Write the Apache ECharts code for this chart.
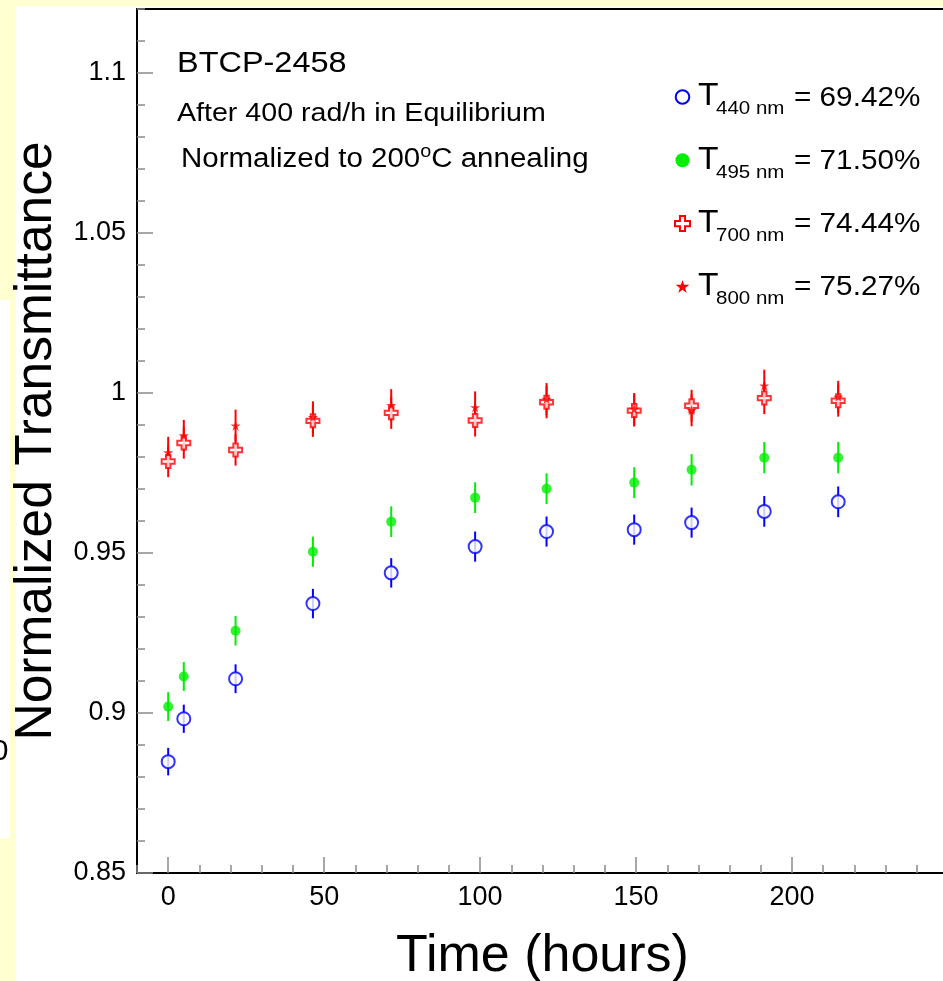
<!DOCTYPE html>
<html><head><meta charset="utf-8">
<script src="https://cdn.jsdelivr.net/npm/echarts@6/dist/echarts.min.js"></script>
<style>
html,body{margin:0;padding:0;overflow:hidden;background:#ffffd2;width:943px;height:981px}
#c{position:absolute;left:0;top:0;width:960px;height:981px}
</style>
</head><body><div id="c"></div>
<script>
const FONT = '"Liberation Sans", Arial, Helvetica, sans-serif';

// ---- data ----
const timeHours = [0, 5, 21.6, 46.4, 71.5, 98.4, 121.3, 149.4, 167.8, 191.1, 214.8];
const t440 = [0.8848, 0.8982, 0.9107, 0.9342, 0.9438, 0.9520, 0.9567, 0.9573, 0.9595, 0.9630, 0.9660];
const e440 = [0.0043, 0.0044, 0.0045, 0.0046, 0.0046, 0.0047, 0.0047, 0.0047, 0.0047, 0.0048, 0.0048];
const t495 = [0.9020, 0.9114, 0.9257, 0.9504, 0.9598, 0.9673, 0.9701, 0.9720, 0.9760, 0.9798, 0.9798];
const e495 = [0.0045, 0.0045, 0.0046, 0.0047, 0.0048, 0.0048, 0.0048, 0.0048, 0.0049, 0.0049, 0.0049];
const t700 = [0.9786, 0.9844, 0.9822, 0.9913, 0.9938, 0.9914, 0.9971, 0.9945, 0.9960, 0.9984, 0.9976];
const e700 = [0.0049, 0.0049, 0.0049, 0.0050, 0.0050, 0.0050, 0.0050, 0.0050, 0.0050, 0.0050, 0.0050];
const t800 = [0.9814, 0.9867, 0.9898, 0.9924, 0.9962, 0.9955, 0.9981, 0.9950, 0.9946, 1.0023, 0.9988];
const e800 = [0.0049, 0.0049, 0.0050, 0.0050, 0.0050, 0.0050, 0.0050, 0.0050, 0.0050, 0.0050, 0.0050];

const xTickValues = [0, 50, 100, 150, 200];
const xTickLabels = ['0', '50', '100', '150', '200'];
const yTickValues = [0.85, 0.9, 0.95, 1.0, 1.05, 1.1];
const yTickLabels = ['0.85', '0.9', '0.95', '1', '1.05', '1.1'];

const legendSub = ['440 nm', '495 nm', '700 nm', '800 nm'];
const legendVal = ['= 69.42%', '= 71.50%', '= 74.44%', '= 75.27%'];
const noteLines = ['BTCP-2458', 'After 400 rad/h in Equilibrium'];

// ---- styles ----
const BLUE = '#0000ff', GREEN = '#00ee00', RED = '#ff0000';
const CROSS_PTS = [[3.3,0],[6.7,0],[6.7,3.3],[10,3.3],[10,6.7],[6.7,6.7],[6.7,10],[3.3,10],[3.3,6.7],[0,6.7],[0,3.3],[3.3,3.3]];
const STAR_PTS = [[5,0],[6.18,3.51],[9.89,3.51],[6.89,5.73],[8.03,9.27],[5,7.09],[1.97,9.27],[3.11,5.73],[0.11,3.51],[3.82,3.51]];
function toPath(pts) { return 'path://M' + pts.map(p => p[0] + ',' + p[1]).join(' L') + ' Z'; }
const TICK = '#8a8a8a';

function zip(a, b, c) { return a.map((v, i) => c ? [v, b[i], c[i]] : [v, b[i]]); }

function errSeries(vals, errs, color) {
  return {
    type: 'custom', xAxisIndex: 0, yAxisIndex: 0, z: 3, silent: true,
    data: zip(timeHours, vals, errs), encode: {x: 0, y: 1},
    renderItem: function (params, api) {
      const x = api.value(0), y = api.value(1), e = api.value(2);
      const p1 = api.coord([x, y - e]), p2 = api.coord([x, y + e]);
      return {type: 'line', shape: {x1: p1[0], y1: p1[1], x2: p2[0], y2: p2[1]},
              style: {stroke: color, lineWidth: 2}};
    }
  };
}
function markSeries(name, vals, symbol, size, itemStyle, z) {
  return {type: 'scatter', name: name, xAxisIndex: 0, yAxisIndex: 0, z: z, silent: true,
          data: zip(timeHours, vals), symbol: symbol, symbolSize: size, itemStyle: itemStyle};
}

function txt(x, base, s, size, sx, extra) {
  return Object.assign({type: 'text', x: x, y: base - 0.33 * size, scaleX: sx || 1,
    style: {text: s, fill: '#000', font: size + 'px ' + FONT, align: 'left', verticalAlign: 'middle'}}, extra || {});
}

const graphics = [
  {type: 'rect', z: -10, shape: {x: 16, y: 6, width: 960, height: 990}, style: {fill: '#ffffff'}},
  {type: 'rect', z: -10, shape: {x: 0, y: 300, width: 10, height: 538}, style: {fill: '#ffffff'}},
  {type: 'text', z: -9, x: 0, y: 752, style: {text: '0', fill: '#000', font: '30px ' + FONT, align: 'center', verticalAlign: 'middle'}},
  txt(177, 74, noteLines[0], 29.5, 1.1),
  txt(177, 122, noteLines[1], 26, 1.1),
  {type: 'text', x: 181, y: 143, scaleX: 1.1,
   style: {text: '{a|Normalized to 200}{o|o}{a|C annealing}', fill: '#000', verticalAlign: 'top', align: 'left',
           rich: {a: {fontSize: 26.8, fontFamily: FONT, lineHeight: 34, fill: '#000'},
                  o: {fontSize: 18, fontFamily: FONT, lineHeight: 18, verticalAlign: 'top', fill: '#000'}}}}
];

// legend (drawn as decorations)
const legBase0 = 107, legStep = 63.3, legMarkX = 682.5;
function legPoly(pts, size, cx, cy, style) {
  return {type: 'polygon', shape: {points: pts.map(p => [cx + (p[0] - 5) * size / 10, cy + (p[1] - 5) * size / 10])}, style: style};
}
legendSub.forEach(function (sub, i) {
  const base = legBase0 + i * legStep, cy = base - 10;
  let m;
  if (i === 0) m = {type: 'circle', shape: {cx: legMarkX, cy: cy, r: 6.8}, style: {fill: '#fff', stroke: BLUE, lineWidth: 2}};
  else if (i === 1) m = {type: 'circle', shape: {cx: legMarkX, cy: cy, r: 7}, style: {fill: GREEN}};
  else if (i === 2) m = legPoly(CROSS_PTS, 15, legMarkX, cy, {fill: '#fff', stroke: RED, lineWidth: 2});
  else m = legPoly(STAR_PTS, 14, legMarkX, cy, {fill: RED});
  graphics.push(m);
  graphics.push(txt(698, base, 'T', 32, 1.05));
  graphics.push(txt(716, base + 8.3, sub, 19, 1.08));
  graphics.push(txt(794, base, legendVal[i], 27, 1.1));
});

const axisCommon = {min: -10, max: 250, splitLine: {show: false}};
const option = {
  backgroundColor: '#ffffd2',
  animation: false,
  grid: {left: 137, top: 9, width: 811, height: 864, outerBoundsMode: 'none', containLabel: false,
         show: true, borderColor: '#000', borderWidth: 2, backgroundColor: '#fff'},
  xAxis: [
    Object.assign({type: 'value', interval: 10, position: 'bottom',
      name: 'Time (hours)', nameLocation: 'middle', nameGap: 58,
      nameTextStyle: {fontSize: 52, fontFamily: FONT, color: '#000'},
      axisLine: {show: true, onZero: false, lineStyle: {color: '#000', width: 2}},
      axisTick: {show: true, inside: true, length: 8, lineStyle: {color: TICK, width: 1.5}},
      axisLabel: {show: false}}, axisCommon),
    Object.assign({type: 'value', position: 'bottom', interval: 10,
      axisLine: {show: false, onZero: false},
      axisTick: {show: true, inside: true, length: 16, customValues: xTickValues, lineStyle: {color: TICK, width: 1.5}},
      axisLabel: {show: true, margin: 11, fontSize: 27, fontFamily: FONT, color: '#000', customValues: xTickValues,
        formatter: function (v) { const k = xTickValues.indexOf(v); return k >= 0 ? xTickLabels[k] : ''; }}}, axisCommon)
  ],
  yAxis: [
    {type: 'value', min: 0.85, max: 1.12, interval: 0.01, position: 'left',
      name: 'Normalized Transmittance', nameLocation: 'middle', nameGap: 74, nameRotate: 90,
      nameTextStyle: {fontSize: 51.5, fontFamily: FONT, color: '#000'},
      splitLine: {show: false},
      axisLine: {show: true, onZero: false, lineStyle: {color: '#000', width: 2}},
      axisTick: {show: true, inside: true, length: 8, lineStyle: {color: TICK, width: 1.5}},
      axisLabel: {show: false}},
    {type: 'value', min: 0.85, max: 1.12, interval: 0.01, position: 'left',
      splitLine: {show: false}, axisLine: {show: false, onZero: false},
      axisTick: {show: true, inside: true, length: 16, customValues: yTickValues, lineStyle: {color: TICK, width: 1.5}},
      axisLabel: {show: true, margin: 11, fontSize: 27, fontFamily: FONT, color: '#000', customValues: yTickValues,
        formatter: function (v) {
          for (let k = 0; k < yTickValues.length; k++) if (Math.abs(yTickValues[k] - v) < 1e-6) return yTickLabels[k];
          return '';
        }}}
  ],
  series: [
    errSeries(t440, e440, BLUE),
    markSeries('T440', t440, 'circle', 13, {color: '#fff', borderColor: BLUE, borderWidth: 2}, 4),
    errSeries(t495, e495, GREEN),
    markSeries('T495', t495, 'circle', 10, {color: GREEN}, 4),
    errSeries(t700, e700, RED),
    markSeries('T700', t700, toPath(CROSS_PTS), 13, {color: '#fff', borderColor: RED, borderWidth: 2}, 4),
    errSeries(t800, e800, RED),
    markSeries('T800', t800, toPath(STAR_PTS), 10, {color: RED}, 5)
  ],
  graphic: {elements: graphics}
};

const chart = echarts.init(document.getElementById('c'), null, {renderer: 'canvas'});
chart.setOption(option);
</script></body></html>
